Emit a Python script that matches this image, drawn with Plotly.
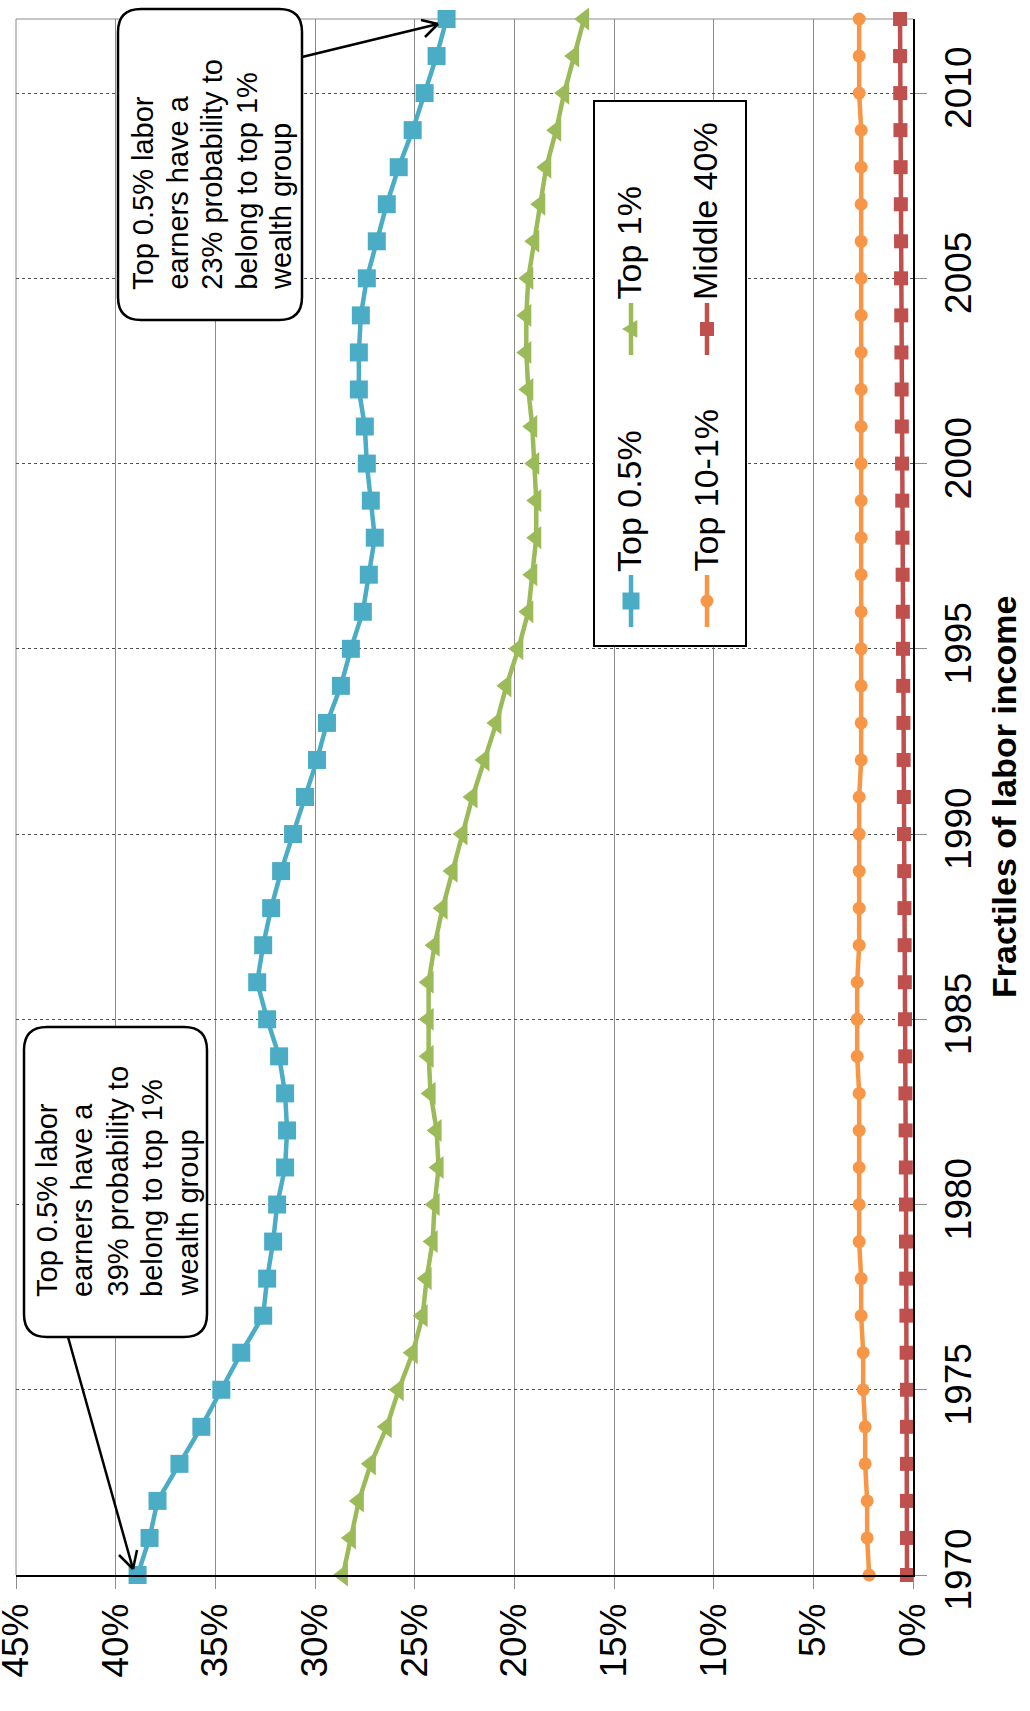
import plotly.graph_objects as go

# ---------------- data ----------------
years = list(range(1970, 2013))
top05 = [38.9, 38.3, 37.9, 36.8, 35.7, 34.7, 33.7, 32.6, 32.4, 32.1, 31.9, 31.5, 31.4, 31.5,
         31.8, 32.4, 32.9, 32.6, 32.2, 31.7, 31.1, 30.5, 29.9, 29.4, 28.7, 28.2, 27.6, 27.3,
         27.0, 27.2, 27.4, 27.5, 27.8, 27.8, 27.7, 27.4, 26.9, 26.4, 25.8, 25.1, 24.5, 23.9, 23.4]
top1 = [28.6, 28.2, 27.8, 27.2, 26.4, 25.8, 25.1, 24.6, 24.4, 24.1, 24.0, 23.8, 23.9, 24.2,
        24.3, 24.3, 24.3, 24.0, 23.6, 23.1, 22.6, 22.1, 21.5, 20.9, 20.4, 19.8, 19.3, 19.1,
        18.9, 18.9, 19.0, 19.1, 19.3, 19.4, 19.4, 19.3, 19.0, 18.7, 18.4, 17.9, 17.5, 17.0, 16.5]
top10_1 = [2.2, 2.3, 2.3, 2.4, 2.4, 2.5, 2.5, 2.6, 2.6, 2.7, 2.7, 2.7, 2.7, 2.7,
           2.8, 2.8, 2.8, 2.7, 2.7, 2.7, 2.7, 2.7, 2.6, 2.6, 2.6, 2.6, 2.6, 2.6,
           2.6, 2.6, 2.6, 2.6, 2.6, 2.6, 2.6, 2.6, 2.6, 2.6, 2.6, 2.6, 2.7, 2.7, 2.7]
middle40 = [0.3, 0.3, 0.3, 0.3, 0.3, 0.3, 0.32, 0.33, 0.34, 0.35, 0.35, 0.36, 0.37, 0.38,
            0.39, 0.4, 0.41, 0.42, 0.43, 0.44, 0.45, 0.46, 0.47, 0.48, 0.49, 0.5, 0.51, 0.52,
            0.53, 0.54, 0.55, 0.56, 0.57, 0.58, 0.59, 0.6, 0.6, 0.61, 0.62, 0.63, 0.64, 0.65, 0.65]
series_names = ["Top 0.5%", "Top 1%", "Top 10-1%", "Middle 40%"]
pct_ticks = [0, 5, 10, 15, 20, 25, 30, 35, 40, 45]
pct_labels = [f"{v}%" for v in pct_ticks]
year_ticks = [1970, 1975, 1980, 1985, 1990, 1995, 2000, 2005, 2010]
axis_title = "Fractiles of labor income"
callout_top = ["Top 0.5% labor", "earners have a", "23% probability to", "belong to top 1%", "wealth group"]
callout_bottom = ["Top 0.5% labor", "earners have a", "39% probability to", "belong to top 1%", "wealth group"]

# ---------------- styling ----------------
BLUE, GREEN, ORANGE, RED = "#4BACC6", "#9BBB59", "#F79646", "#C0504D"
FONT = "Liberation Sans, Arial, sans-serif"
W, H = 1030, 1711
L, R, T, B = 16, 913, 19, 1575


def px(x):
    return (x - L) / (R - L)


def py(y):
    return (B - y) / (B - T)


fig = go.Figure()
styles = [
    (top05, BLUE, "square", 18),
    (top1, GREEN, "triangle-left", 20),
    (top10_1, ORANGE, "circle", 13),
    (middle40, RED, "square", 14),
]
for name, (vals, col, sym, size) in zip(series_names, styles):
    fig.add_trace(go.Scatter(
        x=vals, y=years, mode="lines+markers", name=name,
        line=dict(color=col, width=4.5),
        marker=dict(symbol=sym, size=size, color=col, line=dict(width=0)),
        showlegend=False, cliponaxis=False,
    ))

shapes = []
annotations = []

# top and left borders of plot area
shapes.append(dict(type="line", xref="paper", yref="paper", x0=0, x1=1, y0=1, y1=1,
                   line=dict(color="#8c8c8c", width=1), layer="below"))
shapes.append(dict(type="line", xref="paper", yref="paper", x0=0, x1=0, y0=0, y1=1,
                   line=dict(color="#8c8c8c", width=1), layer="below"))


def rounded_path(x0, y0, x1, y1, r):
    pts = []
    pts.append(f"M {px(x0 + r)},{py(y0)}")
    pts.append(f"L {px(x1 - r)},{py(y0)}")
    pts.append(f"Q {px(x1)},{py(y0)} {px(x1)},{py(y0 + r)}")
    pts.append(f"L {px(x1)},{py(y1 - r)}")
    pts.append(f"Q {px(x1)},{py(y1)} {px(x1 - r)},{py(y1)}")
    pts.append(f"L {px(x0 + r)},{py(y1)}")
    pts.append(f"Q {px(x0)},{py(y1)} {px(x0)},{py(y1 - r)}")
    pts.append(f"L {px(x0)},{py(y0 + r)}")
    pts.append(f"Q {px(x0)},{py(y0)} {px(x0 + r)},{py(y0)}")
    pts.append("Z")
    return " ".join(pts)


def line_px(x0, y0, x1, y1, color="black", width=2.5):
    shapes.append(dict(type="line", xref="paper", yref="paper",
                       x0=px(x0), y0=py(y0), x1=px(x1), y1=py(y1),
                       line=dict(color=color, width=width), layer="above"))


def rot_text(text, xc, ybottom, size, bold=False):
    annotations.append(dict(
        text=f"<b>{text}</b>" if bold else text,
        xref="paper", yref="paper", x=px(xc), y=py(ybottom),
        xanchor="center", yanchor="bottom", textangle=-90, showarrow=False,
        font=dict(family=FONT, size=size, color="black"), borderpad=0,
    ))


# ---- callout top ----
shapes.append(dict(type="path", xref="paper", yref="paper",
                   path=rounded_path(118, 9, 302, 320, 23),
                   fillcolor="white", line=dict(color="black", width=2.5), layer="above"))
for i, t in enumerate(callout_top):
    rot_text(t, 143 + 34.6 * i, 291, 29)
line_px(302, 57, 438, 24)
line_px(438, 24, 421, 20)
line_px(438, 24, 425, 37)

# ---- callout bottom ----
shapes.append(dict(type="path", xref="paper", yref="paper",
                   path=rounded_path(24, 1027, 207, 1337, 23),
                   fillcolor="white", line=dict(color="black", width=2.5), layer="above"))
for i, t in enumerate(callout_bottom):
    rot_text(t, 47 + 35 * i, 1298, 29)
line_px(68, 1337, 133, 1569)
line_px(133, 1569, 119, 1555)
line_px(133, 1569, 137, 1550)

# ---- legend ----
shapes.append(dict(type="rect", xref="paper", yref="paper",
                   x0=px(594), x1=px(746), y0=py(101), y1=py(646),
                   fillcolor="white", line=dict(color="black", width=2), layer="above"))
leg = [
    (series_names[0], BLUE, "square", 17, 631, 601),
    (series_names[1], GREEN, "tri", 18, 631, 329),
    (series_names[2], ORANGE, "circle", 13, 707, 601),
    (series_names[3], RED, "square", 14, 707, 329),
]
for name, col, sym, s, cx, cy in leg:
    line_px(cx, cy - 26, cx, cy + 26, color=col, width=4.5)
    h = s / 2
    if sym == "square":
        shapes.append(dict(type="rect", xref="paper", yref="paper",
                           x0=px(cx - h), x1=px(cx + h), y0=py(cy - h), y1=py(cy + h),
                           fillcolor=col, line=dict(width=0), layer="above"))
    elif sym == "circle":
        shapes.append(dict(type="circle", xref="paper", yref="paper",
                           x0=px(cx - h), x1=px(cx + h), y0=py(cy - h), y1=py(cy + h),
                           fillcolor=col, line=dict(width=0), layer="above"))
    else:
        path = (f"M {px(cx - h)},{py(cy)} L {px(cx + h * 0.7)},{py(cy - h)} "
                f"L {px(cx + h * 0.7)},{py(cy + h)} Z")
        shapes.append(dict(type="path", xref="paper", yref="paper", path=path,
                           fillcolor=col, line=dict(width=0), layer="above"))
    rot_text(name, cx - 2, cy - 28, 34)

# ---- axis title ----
annotations.append(dict(
    text=f"<b>{axis_title}</b>", xref="paper", yref="paper",
    x=px(1004), y=0.5, xanchor="center", yanchor="middle", textangle=-90,
    showarrow=False, font=dict(family=FONT, size=34, color="black"),
))

fig.update_layout(
    width=W, height=H,
    margin=dict(l=L, r=W - R, t=T, b=H - B, pad=0, autoexpand=False),
    paper_bgcolor="white", plot_bgcolor="white",
    showlegend=False,
    font=dict(family=FONT, color="black"),
    xaxis=dict(
        range=[45, 0], tickvals=pct_ticks, ticktext=pct_labels, tickangle=-90,
        tickfont=dict(family=FONT, size=37, color="black"), ticklabeloverflow="allow",
        automargin=False,
        showgrid=True, gridcolor="#8c8c8c", gridwidth=1, zeroline=False,
        showline=True, linecolor="black", linewidth=1.5,
        ticks="outside", ticklen=12, tickcolor="#8c8c8c", tickwidth=1,
    ),
    yaxis=dict(
        range=[1970, 2012], side="right", tickvals=year_ticks, tickangle=-90,
        tickfont=dict(family=FONT, size=37, color="black"), ticklabeloverflow="allow",
        automargin=False,
        showgrid=True, gridcolor="#505050", gridwidth=1, griddash="dot", zeroline=False,
        showline=True, linecolor="black", linewidth=1.5,
        ticks="outside", ticklen=12, tickcolor="#8c8c8c", tickwidth=1,
    ),
    shapes=shapes,
    annotations=annotations,
)

fig.write_html("out.html", config={"displayModeBar": False},
               post_script="document.body.style.margin='0px';document.body.style.overflow='hidden';")
